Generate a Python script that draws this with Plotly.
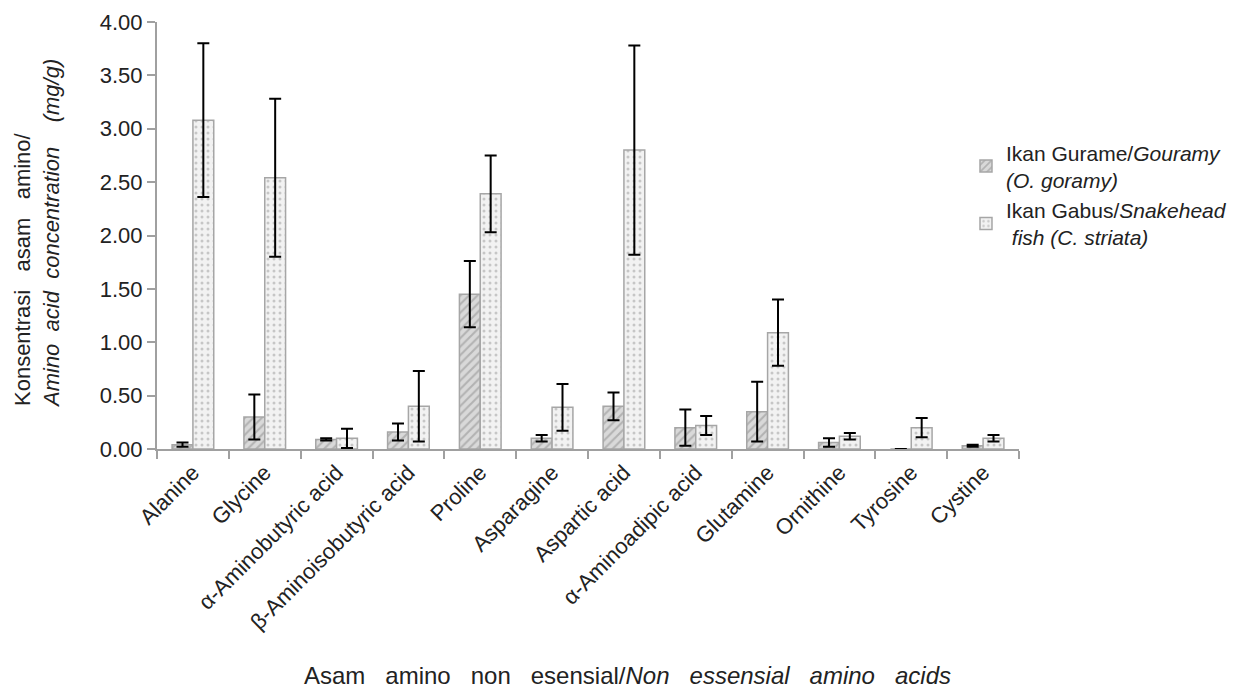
import plotly.graph_objects as go

categories = ["Alanine", "Glycine", "α-Aminobutyric acid", "β-Aminoisobutyric acid",
              "Proline", "Asparagine", "Aspartic acid", "α-Aminoadipic acid",
              "Glutamine", "Ornithine", "Tyrosine", "Cystine"]
gourami = [0.04, 0.30, 0.09, 0.16, 1.45, 0.10, 0.40, 0.20, 0.35, 0.06, 0.00, 0.03]
gourami_err = [0.02, 0.21, 0.01, 0.08, 0.31, 0.03, 0.13, 0.17, 0.28, 0.04, 0.00, 0.01]
snakehead = [3.08, 2.54, 0.10, 0.40, 2.39, 0.39, 2.80, 0.22, 1.09, 0.12, 0.20, 0.10]
snakehead_err = [0.72, 0.74, 0.09, 0.33, 0.36, 0.22, 0.98, 0.09, 0.31, 0.03, 0.09, 0.03]

FONT = "Liberation Sans, Arial, sans-serif"
S = "\u00a0"

fig = go.Figure()
fig.add_trace(go.Bar(
    x=categories, y=gourami, name="Ikan Gurame/<i>Gouramy</i><br><i>(O. goramy)</i>",
    marker=dict(color="#d9d9d9", line=dict(color="#a6a6a6", width=1.5),
                pattern=dict(shape="/", fgcolor="#8c8c8c", bgcolor="#d9d9d9", size=6, solidity=0.35)),
    error_y=dict(type="data", array=gourami_err, color="black", thickness=2, width=6),
))
fig.add_trace(go.Bar(
    x=categories, y=snakehead, name="Ikan Gabus/<i>Snakehead</i><br><i>" + S + "fish (C. striata)</i>",
    marker=dict(color="#f2f2f2", line=dict(color="#a6a6a6", width=1.5),
                pattern=dict(shape=".", fgcolor="#9a9a9a", bgcolor="#f2f2f2", size=6, solidity=0.2)),
    error_y=dict(type="data", array=snakehead_err, color="black", thickness=2, width=6),
))

xtitle = (S * 3).join(["Asam", "amino", "non", "esensial/<i>Non", "essensial", "amino", "acids</i>"])
ytitle = (S * 3).join(["Konsentrasi", "asam", "amino/"]) + "<br><i>" + (S * 2).join(["Amino", "acid", "concentration", "", "(mg/g)"]) + "</i>"

fig.update_layout(
    width=1246, height=691,
    paper_bgcolor="white", plot_bgcolor="white",
    font=dict(family=FONT, size=22, color="#222"),
    margin=dict(l=149, r=235, t=14, b=250, autoexpand=False),
    barmode="group", bargap=0.42, bargroupgap=0.0,
    showlegend=True,
    legend=dict(x=0.9385, y=0.742, xanchor="left", yanchor="top",
                font=dict(family=FONT, size=21, color="#222"),
                tracegroupgap=17, itemwidth=30, bgcolor="rgba(0,0,0,0)"),
    xaxis=dict(
        type="category", range=[-0.5, 11.5], automargin=False,
        showline=True, linecolor="#a0a0a0", linewidth=2,
        ticks="outside", tickson="boundaries", ticklen=8, tickcolor="#a0a0a0", tickwidth=2,
        tickangle=-45, tickfont=dict(family=FONT, size=22, color="#222"),
        showgrid=False,
    ),
    yaxis=dict(
        range=[0, 4], tickvals=[0, 0.5, 1, 1.5, 2, 2.5, 3, 3.5, 4], automargin=False,
        tickformat=".2f", ticklabeloverflow="allow",
        showline=True, linecolor="#a0a0a0", linewidth=2,
        ticks="outside", ticklen=8, tickcolor="#a0a0a0", tickwidth=2,
        tickfont=dict(family=FONT, size=22, color="#222"),
        showgrid=False, zeroline=False,
    ),
    annotations=[
        dict(text=xtitle, xref="paper", yref="paper", x=0.5464, y=0, yshift=-226,
             xanchor="center", yanchor="middle", showarrow=False,
             font=dict(family=FONT, size=24, color="#222")),
        dict(text=ytitle, xref="paper", yref="paper", x=0, y=0.5035, xshift=-120,
             xanchor="center", yanchor="middle", showarrow=False, textangle=-90, align="left",
             font=dict(family=FONT, size=22, color="#222")),
    ],
)

fig.write_html("out.html")
